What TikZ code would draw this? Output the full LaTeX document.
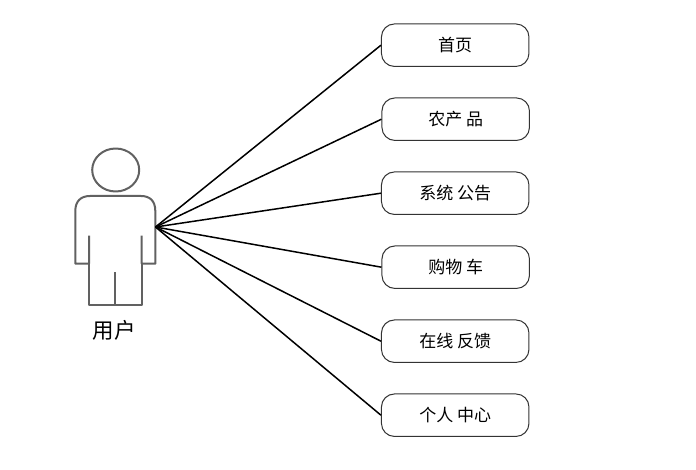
\documentclass[tikz,border=0pt]{standalone}
\usepackage{fontspec}
\setmainfont{Noto Sans CJK SC}
\tikzset{
  px/.style={x=1pt,y=-1pt},
  menubox/.style={draw=black!80,line width=1pt,rounded corners=13pt,minimum width=147.5pt,minimum height=42.5pt,inner sep=0pt,font=\fontsize{17}{20}\selectfont,fill=white},
  link/.style={draw=black,line width=1.5pt},
  figureline/.style={draw=black!62,line width=2pt,line join=round},
  figurelabel/.style={font=\fontsize{21.5}{24}\selectfont,inner sep=0pt}
}
\begin{document}
\begin{tikzpicture}[px]
\useasboundingbox (0,0) rectangle (696,470);
\path[fill=white] (0,0) rectangle (696,470);
% person
\draw[figureline] (115.7,170) ellipse [x radius=23.5pt,y radius=21.5pt];
\draw[figureline] (89,235.7) -- (89,263.7) -- (75.3,263.7) -- (75.3,211)
  .. controls (75.3,201) and (81,196) .. (90,196) -- (141,196)
  .. controls (150,196) and (155.3,201) .. (155.3,211) -- (155.3,263.7) -- (141.7,263.7) -- (141.7,235.7);
\draw[figureline] (89,263.7) -- (89,305) -- (141.7,305) -- (141.7,263.7);
\draw[figureline] (115.3,272.3) -- (115.3,305);
\node[figurelabel] (user) at (114,330) {用户};
\coordinate (hand) at (155.5,227);
% boxes
\node[menubox] (a) at (455.2,45.2) {首页};
\node[menubox] (b) at (455.7,119.2) {农产 品};
\node[menubox] (c) at (455.2,193.2) {系统 公告};
\node[menubox] (d) at (455.7,267.2) {购物 车};
\node[menubox] (e) at (455.2,341.2) {在线 反馈};
\node[menubox] (f) at (455.2,415.2) {个人 中心};
% connectors
\foreach \t in {a,b,c,d,e,f} \draw[link] (hand) -- (\t.west);
\end{tikzpicture}
\end{document}
